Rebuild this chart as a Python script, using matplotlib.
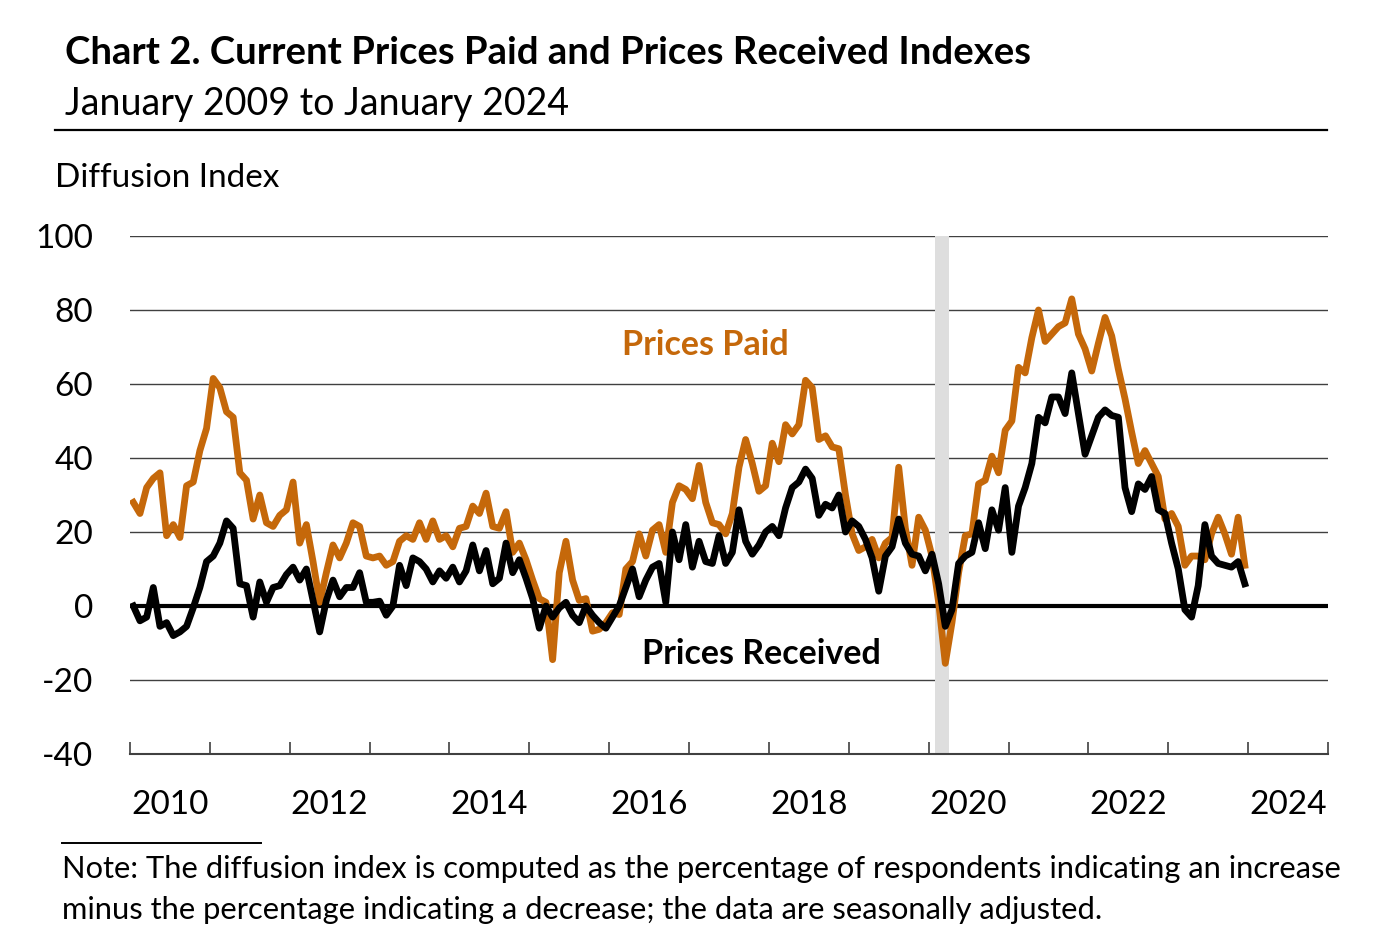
import matplotlib
matplotlib.use("Agg")
import matplotlib.pyplot as plt
import numpy as np

plt.rcParams['font.family'] = ['Lato', 'DejaVu Sans']

# monthly values, Jan 2010 - Dec 2023 (one row per year)
prices_paid = [
    28, 25, 32, 34.5, 36, 19, 22, 18.5, 32.5, 33.5, 42, 48,
    61.5, 59, 52.5, 51, 36, 34, 23.5, 30, 22.5, 21.5, 24.5, 26,
    33.5, 17, 22, 12, 1, 9, 16.5, 13, 17, 22.5, 21.5, 13.5,
    13, 13.5, 11, 12, 17.5, 19, 18, 22.5, 18, 23, 18, 19,
    16, 21, 21.5, 27, 25, 30.5, 21.5, 21, 25.5, 14.5, 17, 12.5,
    7, 2, 1, -14.5, 9, 17.5, 7, 1.5, 2, -6.8, -6.3, -4.5,
    -1.8, -2.3, 10, 12, 19.5, 13.5, 20.5, 22, 14.5, 28, 32.5, 31.5,
    29, 38, 28, 22.5, 22, 19.5, 25, 37.5, 45, 38.5, 31, 32.5,
    44, 39, 49, 46.5, 49, 61, 59, 45, 46, 43, 42.5, 30,
    19.5, 15, 16, 18, 13, 17, 18.5, 37.5, 21, 11, 24, 20.5,
    13.5, 1, -15.5, -4.5, 9, 19, 19.5, 33, 34, 40.5, 36, 47.5,
    50, 64.5, 63, 72.5, 80, 71.5, 73.5, 75.5, 76.5, 83, 73.5, 69.5,
    63.5, 71, 78, 73, 64, 56, 47, 38.5, 42, 38.5, 35, 23.5,
    25, 21.5, 11, 13.5, 13.5, 12.5, 19.5, 24, 19.5, 14, 24, 11,
]
prices_received = [
    0, -4, -3, 5, -5.5, -4.5, -8, -7, -5.5, -0.5, 5, 12,
    13.5, 17, 23, 21, 6, 5.5, -3, 6.5, 1, 5, 5.5, 8.5,
    10.5, 7, 10, 1.5, -7, 1.5, 7, 2.5, 5, 5, 9, 1,
    1, 1.3, -2.5, 0, 11, 5.5, 13, 12, 10, 6.5, 9.5, 7.5,
    10.5, 6.5, 9.5, 16.5, 9.5, 15, 6, 7.5, 17, 9, 12.5, 7.5,
    2, -6, 0, -3, -0.5, 1, -2.5, -4.5, 0, -2.5, -4.5, -6,
    -3, 0, 5, 10, 2.5, 7, 10.5, 11.5, 1, 20, 12.5, 22,
    10.5, 17.5, 12, 11.5, 19, 11.5, 14.5, 26, 17.5, 14, 16.5, 20,
    21.5, 19, 26.5, 32, 33.5, 37, 34.5, 24.5, 27.5, 26.5, 30, 20,
    23, 21.5, 18, 13, 4, 13.5, 16, 23.5, 17, 14, 13.5, 9.5,
    14, 6, -5.5, -1, 11.5, 13.5, 14.5, 22.5, 15.5, 26, 20.5, 32,
    14.5, 27, 32, 38.5, 51, 49.5, 56.5, 56.5, 52, 63, 52, 41,
    46, 51, 53, 51.5, 51, 32, 25.5, 33, 31.5, 35, 26, 25,
    17, 10, -1, -3, 5.5, 22, 13.5, 11.5, 11, 10.5, 12, 6,
]
start_year = 2010
recession = (2020 + 1 / 12, 2020 + 3 / 12)  # Feb-Mar 2020
year_labels = [2010, 2012, 2014, 2016, 2018, 2020, 2022, 2024]
y_ticks = [-40, -20, 0, 20, 40, 60, 80, 100]

ORANGE = '#C5680A'

# month points sit in the middle of each month slot
t = start_year + (np.arange(len(prices_paid)) + 0.5) / 12

fig = plt.figure(figsize=(13.89, 9.5), dpi=100)
ax = fig.add_axes([130 / 1389, 1 - 754 / 950, 1198 / 1389, 518 / 950])

for v in y_ticks[1:]:
    if v != 0:
        ax.axhline(v, color='#404040', lw=1.0, zorder=1)
ax.axvspan(*recession, color='#dedede', lw=0, zorder=2)
ax.axhline(0, color='black', lw=3.0, zorder=3)

ax.plot(t, prices_paid, color=ORANGE, lw=4.9, solid_joinstyle='round', zorder=4)
ax.plot(t, prices_received, color='black', lw=4.9, solid_joinstyle='round', zorder=5)

ax.set_xlim(2010, 2025)
ax.set_ylim(-40, 100)
ax.set_yticks(y_ticks)
ax.set_yticklabels([str(v) for v in y_ticks], fontsize=24)
ax.tick_params(axis='y', length=0, pad=26.5)
for lab in ax.get_yticklabels():
    lab.set_horizontalalignment('right')

ax.set_xticks(np.arange(2010, 2026))
ax.set_xticklabels([])
ax.set_xticks([y + 0.5 for y in year_labels], minor=True)
ax.set_xticklabels([str(y) for y in year_labels], minor=True, fontsize=24)
ax.tick_params(axis='x', which='major', direction='in', length=9, width=1.2, color='#404040')
ax.tick_params(axis='x', which='minor', length=0, pad=26)

for s in ['top', 'left', 'right']:
    ax.spines[s].set_visible(False)
ax.spines['bottom'].set_color('#404040')
ax.spines['bottom'].set_linewidth(1.5)

ax.text(2017.21, 70.5, 'Prices Paid', color=ORANGE, fontsize=24.5, fontweight='bold', ha='center', va='center')
ax.text(2017.91, -13, 'Prices Received', color='black', fontsize=24.5, fontweight='bold', ha='center', va='center')

fig.text(65 / 1389, 1 - 53 / 950, 'Chart 2. Current Prices Paid and Prices Received Indexes',
         fontsize=27.5, fontweight='bold', ha='left', va='center')
fig.text(65 / 1389, 1 - 104 / 950, 'January 2009 to January 2024', fontsize=27, ha='left', va='center')
fig.add_artist(plt.Line2D([55 / 1389, 1327 / 1389], [1 - 130 / 950] * 2, color='black', lw=1.6))
fig.text(55 / 1389, 1 - 178 / 950, 'Diffusion Index', fontsize=24, ha='left', va='center')

fig.add_artist(plt.Line2D([62 / 1389, 261 / 1389], [1 - 843 / 950] * 2, color='black', lw=1.4))
fig.text(62 / 1389, 1 - 869 / 950,
         'Note: The diffusion index is computed as the percentage of respondents indicating an increase',
         fontsize=22.2, ha='left', va='center')
fig.text(62 / 1389, 1 - 910 / 950,
         'minus the percentage indicating a decrease; the data are seasonally adjusted.',
         fontsize=22.2, ha='left', va='center')

fig.savefig('out.png', dpi=100)
